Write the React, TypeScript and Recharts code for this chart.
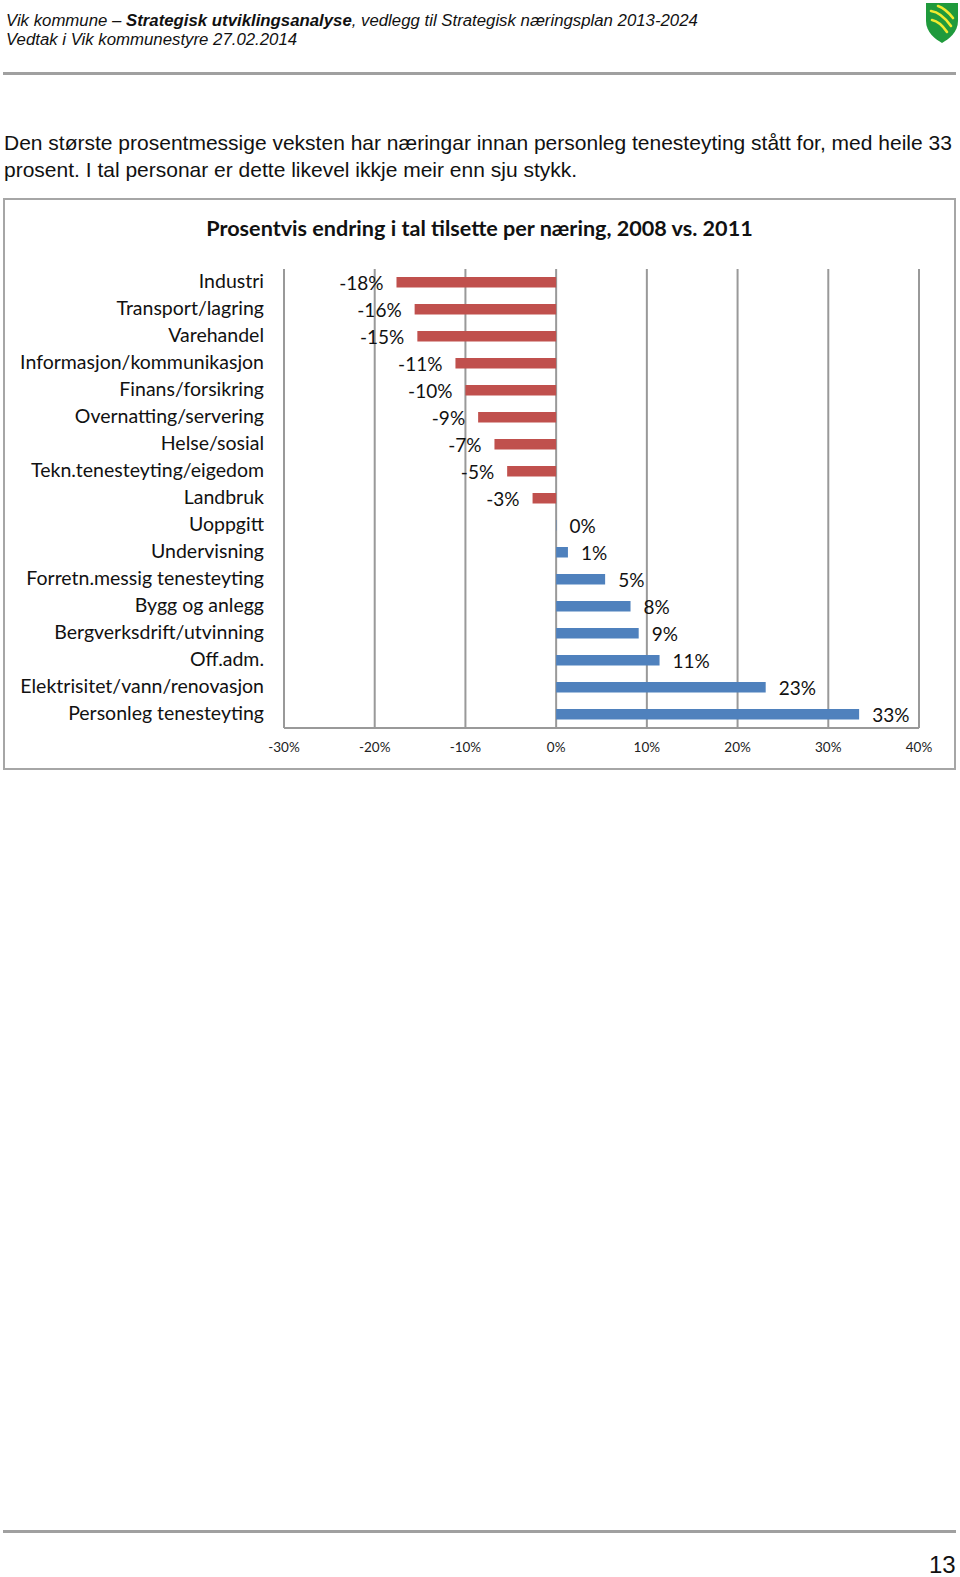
import { BarChart, Bar, XAxis, YAxis, CartesianGrid, Cell, LabelList } from 'recharts';

const categories = [
  'Industri',
  'Transport/lagring',
  'Varehandel',
  'Informasjon/kommunikasjon',
  'Finans/forsikring',
  'Overnatting/servering',
  'Helse/sosial',
  'Tekn.tenesteyting/eigedom',
  'Landbruk',
  'Uoppgitt',
  'Undervisning',
  'Forretn.messig tenesteyting',
  'Bygg og anlegg',
  'Bergverksdrift/utvinning',
  'Off.adm.',
  'Elektrisitet/vann/renovasjon',
  'Personleg tenesteyting',
];
// Uoppgitt is a hair above zero so the library still draws its 0% label
const changes = [-17.6, -15.6, -15.3, -11.1, -10, -8.6, -6.8, -5.4, -2.6, 0.04, 1.3, 5.4, 8.2, 9.1, 11.4, 23.1, 33.4];
const xTicks = [-30, -20, -10, 0, 10, 20, 30, 40];

const NEGATIVE = '#C0504D';
const POSITIVE = '#4F81BD';
const GRID = '#999999';
const CHART_FONT = 'Lato, sans-serif';

const rows = categories.map((name, i) => ({ name, value: changes[i] }));
const pct = (v: any) => `${Math.round(Number(v))}%`;

function Line({ top }: { top: number }) {
  return <div style={{ position: 'absolute', left: 3, top, width: 953, height: 3, background: '#A0A0A0' }} />;
}

function Txt({ left, top, size, children }: { left: number; top: number; size: number; children: any }) {
  return (
    <div style={{ position: 'absolute', left, top, fontSize: size, lineHeight: 1, whiteSpace: 'nowrap', color: '#111' }}>
      {children}
    </div>
  );
}

function Shield() {
  return (
    <svg width={34} height={42} viewBox="0 0 34 42" style={{ position: 'absolute', left: 925, top: 2 }}>
      <path d="M1 1 H33 V19 C33 30 24 37 17 41 C10 37 1 30 1 19 Z" fill="#1F9A3C" />
      <g fill="none" stroke="#F0EA30" strokeWidth={2.6} strokeLinecap="round">
        <path d="M13 4 C19 6 24 11 28 16" />
        <path d="M6 9 C14 10 21 17 26 24" />
        <path d="M7 18 C12 19 18 24 22 30" />
      </g>
    </svg>
  );
}

export default function App() {
  return (
    <div style={{ position: 'absolute', left: 0, top: 0, width: 960, height: 1577, background: '#fff', fontFamily: '"Liberation Sans", sans-serif', overflow: 'hidden' }}>
      <Txt left={6} top={13} size={16.8}>
        <i>Vik kommune – <b>Strategisk utviklingsanalyse</b>, vedlegg til Strategisk næringsplan 2013-2024</i>
      </Txt>
      <Txt left={6} top={32} size={16.8}>
        <i>Vedtak i Vik kommunestyre 27.02.2014</i>
      </Txt>
      <Shield />
      <Line top={72} />
      <Txt left={4} top={132} size={21}>
        Den største prosentmessige veksten har næringar innan personleg tenesteyting stått for, med heile 33
      </Txt>
      <Txt left={4} top={159} size={21}>
        prosent. I tal personar er dette likevel ikkje meir enn sju stykk.
      </Txt>

      <div style={{ position: 'absolute', left: 3, top: 198, width: 949, height: 568, border: '2px solid #A6A6A6' }} />
      <div style={{ position: 'absolute', left: 4, width: 951, top: 216, textAlign: 'center', fontFamily: CHART_FONT, fontWeight: 700, fontSize: 21.6, lineHeight: 1.2, color: '#111' }}>
        Prosentvis endring i tal tilsette per næring, 2008 vs. 2011
      </div>

      <div style={{ position: 'absolute', left: 0, top: 0 }}>
        <BarChart
          width={960}
          height={800}
          layout="vertical"
          data={rows}
          margin={{ top: 269, right: 41, bottom: 32, left: 24 }}
          barCategoryGap={0}
        >
          <CartesianGrid horizontal={false} stroke={GRID} strokeWidth={2} />
          <XAxis
            type="number"
            domain={[-30, 40]}
            ticks={xTicks}
            tickFormatter={pct}
            height={40}
            axisLine={{ stroke: GRID, strokeWidth: 2 }}
            tickLine={false}
            tickSize={0}
            tickMargin={14}
            tick={{ fontSize: 13.5, fontFamily: CHART_FONT, fill: '#222' }}
          />
          <YAxis
            type="category"
            dataKey="name"
            width={260}
            interval={0}
            axisLine={{ stroke: GRID, strokeWidth: 2 }}
            tickLine={false}
            tickSize={0}
            tickMargin={20}
            tick={{ fontSize: 19.5, fontFamily: CHART_FONT, fill: '#111', dy: -1 }}
          />
          <Bar dataKey="value" barSize={10.5} isAnimationActive={false}>
            {rows.map((r) => (
              <Cell key={r.name} fill={r.value < 0 ? NEGATIVE : POSITIVE} />
            ))}
            <LabelList
              dataKey="value"
              position="right"
              offset={13}
              formatter={pct}
              dy={1}
              style={{ fontSize: 19, fontFamily: CHART_FONT, fill: '#111' }}
            />
          </Bar>
        </BarChart>
      </div>

      <Line top={1530} />
      <Txt left={929} top={1553} size={24}>13</Txt>
    </div>
  );
}
